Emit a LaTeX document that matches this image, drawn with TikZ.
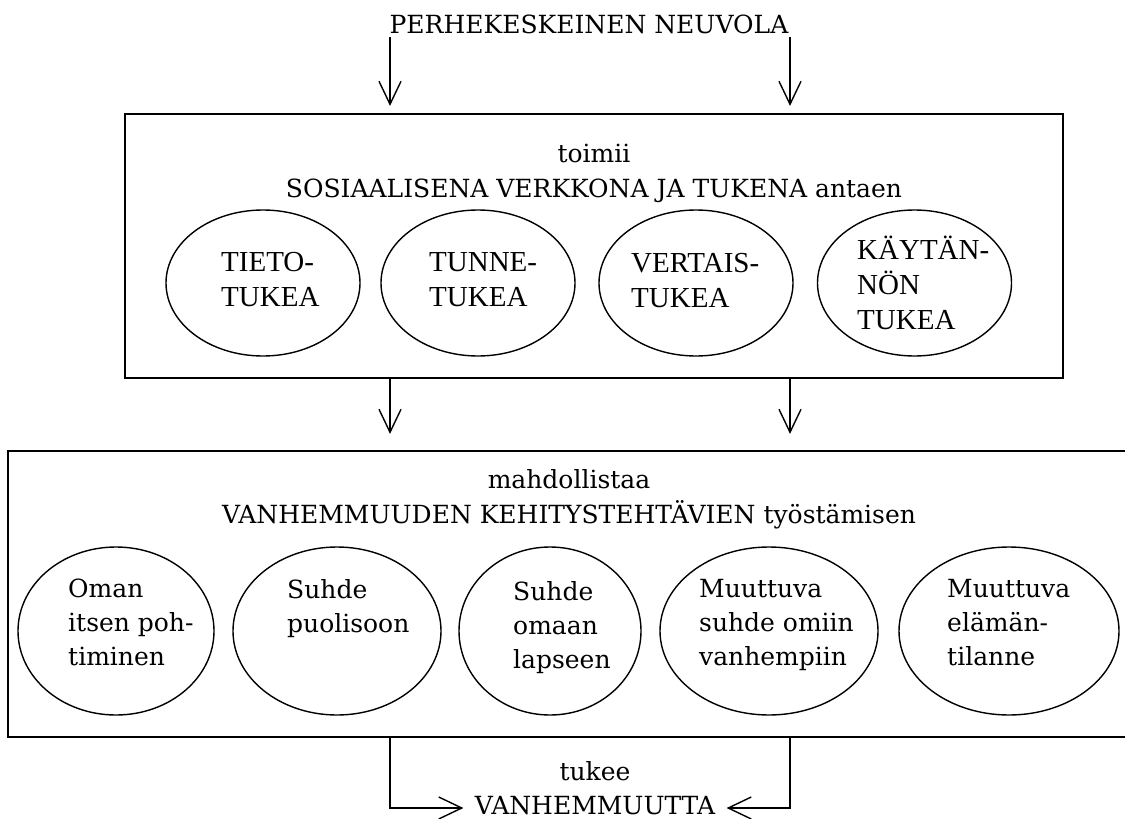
\documentclass[tikz,border=0pt]{standalone}
\usepackage{fontspec}
\setmainfont{DejaVu Serif}
\newfontfamily\timesfont{Liberation Serif}
\usetikzlibrary{arrows.meta,shapes.geometric}

\begin{document}
\begin{tikzpicture}[x=1pt,y=-1pt,
  panel/.style={draw, line width=2.2pt, inner sep=0pt},
  oval/.style={draw, ellipse, line width=1.4pt, inner sep=0pt},
  head/.style={font=\fontsize{25}{34}\selectfont, anchor=base},
  supporttext/.style={font=\timesfont\fontsize{29}{35}\selectfont, align=left, anchor=north west, inner sep=0pt},
  tasktext/.style={font=\fontsize{25}{34}\selectfont, align=left, anchor=north west, inner sep=0pt},
  arr/.style={line width=1.4pt, -{Straight Barb[length=23pt,width=22pt,line width=1.4pt]}}
]
\useasboundingbox (0,0) rectangle (1125,819);

% title
\node[head] (title) at (589,33) {PERHEKESKEINEN NEUVOLA};

% social network panel
\node[panel, minimum width=938pt, minimum height=264pt] (box1) at (594,246) {};
\node[head] (h1a) at (594,162) {toimii};
\node[head] (h1b) at (594,197) {SOSIAALISENA VERKKONA JA TUKENA antaen};

\node[oval, minimum width=194pt, minimum height=146pt] (s1) at (263,283) {};
\node[oval, minimum width=194pt, minimum height=146pt] (s2) at (478,283) {};
\node[oval, minimum width=194pt, minimum height=146pt] (s3) at (696,283) {};
\node[oval, minimum width=194pt, minimum height=146pt] (s4) at (914.5,283) {};
\node[supporttext] (st1) at (221,252.5) {TIETO-\\TUKEA};
\node[supporttext] (st2) at (429,252.5) {TUNNE-\\TUKEA};
\node[supporttext] (st3) at (631,253.5) {VERTAIS-\\TUKEA};
\node[supporttext] (st4) at (857,235.5) {KÄYTÄN-\\NÖN\\TUKEA};

% developmental tasks panel
\node[panel, minimum width=1122pt, minimum height=286pt] (box2) at (569,594) {};
\node[head] (h2a) at (569,488) {mahdollistaa};
\node[head] (h2b) at (569,523) {VANHEMMUUDEN KEHITYSTEHTÄVIEN työstämisen};

\node[oval, minimum width=196pt, minimum height=168pt] (t1) at (116,631) {};
\node[oval, minimum width=208pt, minimum height=168pt] (t2) at (337,631) {};
\node[oval, minimum width=182pt, minimum height=168pt] (t3) at (550,631) {};
\node[oval, minimum width=218pt, minimum height=168pt] (t4) at (769,631) {};
\node[oval, minimum width=220pt, minimum height=168pt] (t5) at (1009,631) {};
\node[tasktext] (tt1) at (68,579) {Oman\\itsen poh-\\timinen};
\node[tasktext] (tt2) at (287,579) {Suhde\\puolisoon};
\node[tasktext] (tt3) at (513,581) {Suhde\\omaan\\lapseen};
\node[tasktext] (tt4) at (699,579) {Muuttuva\\suhde omiin\\vanhempiin};
\node[tasktext] (tt5) at (947,579) {Muuttuva\\elämän-\\tilanne};

% result
\node[head] (h3a) at (595,780) {tukee};
\node[head] (vanh) at (595,814) {VANHEMMUUTTA};

% connectors
\coordinate (xl) at (390,0);
\coordinate (xr) at (790,0);
\coordinate (jl) at (390,808);
\coordinate (jr) at (790,808);

\draw[arr, shorten >=7pt] (xl |- title.south) -- (xl |- box1.north);
\draw[arr, shorten >=7pt] (xr |- title.south) -- (xr |- box1.north);
\draw[arr, shorten >=16pt] (xl |- box1.south) -- (xl |- box2.north);
\draw[arr, shorten >=16pt] (xr |- box1.south) -- (xr |- box2.north);
\draw[arr, shorten >=8pt] (xl |- box2.south) -- (jl) -- (jl -| vanh.west);
\draw[arr, shorten >=8pt] (xr |- box2.south) -- (jr) -- (jr -| vanh.east);
\end{tikzpicture}
\end{document}
